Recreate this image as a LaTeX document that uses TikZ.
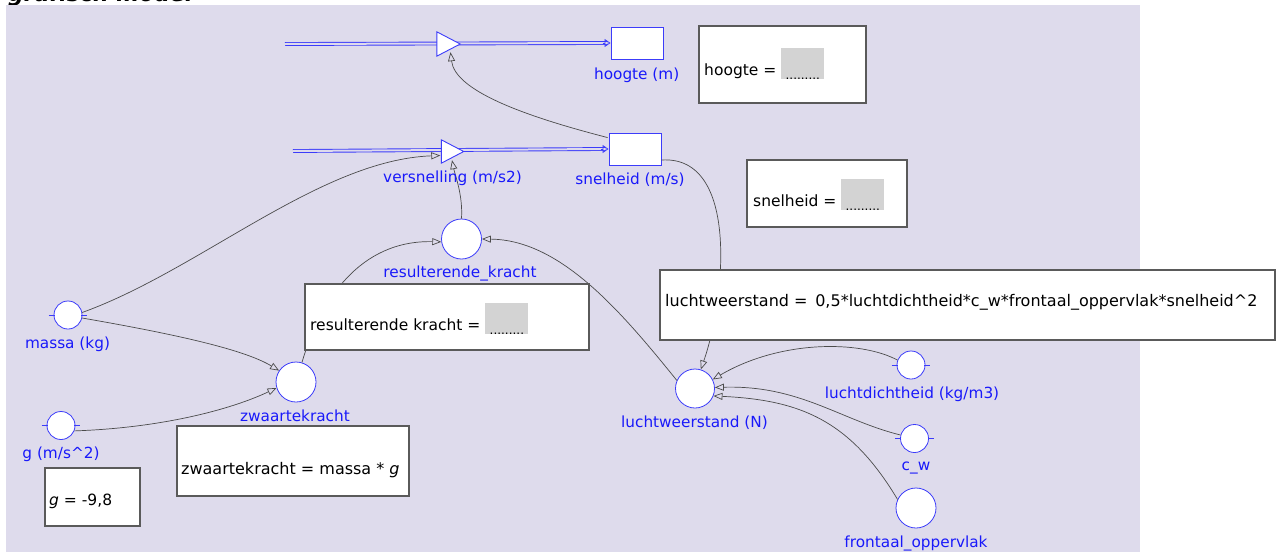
\documentclass[tikz,border=0pt]{standalone}
\usepackage{fontspec}
\setmainfont{DejaVu Sans}
\usetikzlibrary{arrows.meta,calc}
\definecolor{bg}{RGB}{222,219,236}
\definecolor{lblue}{RGB}{25,25,250}
\definecolor{sblue}{RGB}{60,60,250}
\definecolor{boxgray}{RGB}{90,90,90}
\definecolor{phgray}{RGB}{211,211,211}
\definecolor{linkgray}{RGB}{75,75,75}
\newcommand\gapbox{\raisebox{-4pt}{\setlength{\fboxsep}{0pt}\colorbox{phgray}{\parbox[b][31pt][b]{43pt}{\centering\fontsize{12}{12}\selectfont .........}}}}
\tikzset{
  stock/.style={draw=sblue, fill=white, line width=0.9pt, minimum width=52pt, minimum height=32pt, inner sep=0},
  auxc/.style={circle, draw=sblue, fill=white, line width=0.8pt, inner sep=0, minimum size=#1},
  auxc/.default=40pt,
  vlabel/.style={text=lblue, font=\fontsize{15.3}{18}\selectfont, inner sep=0, anchor=base},
  eqbox/.style={draw=boxgray, fill=white, line width=1.6pt, inner sep=0},
  eqtext/.style={anchor=base west, inner sep=0, font=\fontsize{15.5}{18}\selectfont},
  link/.style={draw=linkgray, line width=0.7pt, -{Triangle[open, length=9pt, width=7pt]}},
  flowline/.style={draw=sblue, double=bg, double distance=2pt, line width=0.9pt},
  flowtip/.style={draw=sblue, line width=0.8pt, -{Triangle[open, length=6pt, width=8pt]}},
  valvenode/.style={inner sep=0, minimum width=23pt, minimum height=24pt},
  valvetri/.style={draw=sblue, fill=white, line width=0.9pt},
  tickmark/.style={draw=sblue, line width=0.9pt}
}
\begin{document}
\begin{tikzpicture}[x=1pt,y=-1pt]
\useasboundingbox (0,0) rectangle (1282,552);
\node[anchor=base west, inner sep=0, font=\fontsize{22}{22}\selectfont\bfseries\itshape] (title) at (8,1.5) {grafisch model};
\fill[bg] (6,5) rectangle (1140,552);

% stocks
\node[stock] (hoogte) at (637,43) {};
\node[stock] (snelheid) at (635,149) {};
% valves (anchors)
\node[valvenode] (v1) at (448.5,44) {};
\node[valvenode, minimum width=22pt, minimum height=23pt] (v2) at (452.5,151.5) {};
\coordinate (s1) at (285,44);
\coordinate (s2) at (293,151);

% auxiliaries
\node[auxc=40pt] (res) at (461.5,239) {};
\node[auxc=40pt] (zw) at (296,382) {};
\node[auxc=39pt] (lw) at (695,388.5) {};
\node[auxc=28pt] (massa) at (68,315) {};
\node[auxc=28pt] (g) at (61,425.5) {};
\node[auxc=28pt] (ld) at (911,365) {};
\node[auxc=28pt] (cw) at (914.5,438.5) {};
\node[auxc=40pt] (fo) at (916,508) {};
\foreach \n in {massa,g,ld,cw}{
  \draw[tickmark] ($(\n.west)+(-5,0)$) -- ($(\n.west)+(1,0)$);
  \draw[tickmark] ($(\n.east)+(-1,0)$) -- ($(\n.east)+(5,0)$);
}

% flows
\draw[flowline] (s1) -- ($(hoogte.west)+(-3,0)$);
\draw[flowtip] ($(hoogte.west)+(-8,0)$) -- (hoogte.west);
\draw[flowline] (s2) -- ($(snelheid.west)+(-3,0)$);
\draw[flowtip] ($(snelheid.west)+(-8,0)$) -- (snelheid.west);
\draw[valvetri] (v1.north west) -- (v1.south west) -- (v1.east) -- cycle;
\draw[valvetri] (v2.north west) -- (v2.south west) -- (v2.east) -- cycle;

% links
\draw[link] ($(snelheid.north west)+(-1,5)$) .. controls (520,115) and (455,90) .. ($(v1.south)+(2,-4)$);
\draw[link] ($(snelheid.east)+(0,11)$) .. controls (740,155) and (725,300) .. (lw.73);
\draw[link] (res.north) .. controls (463,195) and (455,175) .. ($(v2.south)+(-0.5,-3)$);
\draw[link] (massa.10) .. controls (200,270) and (320,160) .. ($(v2.west)+(-1,4)$);
\draw[link] (massa.-12) .. controls (180,335) and (245,350) .. (zw.146);
\draw[link] (g.-22) .. controls (160,428) and (230,410) .. (zw.197);
\draw[link] (zw.73) .. controls (320,300) and (360,240) .. (res.188);
\draw[link] (lw.156) .. controls (620,310) and (560,240) .. (res.0);
\draw[link] (ld.160) .. controls (860,340) and (780,340) .. (lw.27);
\draw[link] (cw.166) .. controls (840,420) and (800,385) .. (lw.3);
\draw[link] (fo.155) .. controls (850,420) and (800,400) .. (lw.-22);

% equation boxes
\node[eqbox, minimum width=167pt, minimum height=77pt] (eqh) at (782.5,64.5) {};
\node[eqtext] (eqht) at (704,75) {hoogte = \gapbox};
\node[eqbox, minimum width=160pt, minimum height=67pt] (eqs) at (827,193.5) {};
\node[eqtext] (eqst) at (753,206) {snelheid = \gapbox};
\node[eqbox, minimum width=284pt, minimum height=66pt] (eqr) at (447,317) {};
\node[eqtext] (eqrt) at (310,330) {resulterende kracht = \gapbox};
\node[eqbox, minimum width=615pt, minimum height=70pt] (eql) at (967.5,305) {};
\node[eqtext, font=\fontsize{16}{18}\selectfont] (eqlt) at (665,306) {luchtweerstand = \,0,5*luchtdichtheid*c\_w*frontaal\_oppervlak*snelheid\^{}2};
\node[eqbox, minimum width=232pt, minimum height=70pt] (eqz) at (293,461) {};
\node[eqtext, font=\fontsize{16}{18}\selectfont] (eqzt) at (181,474) {zwaartekracht = massa * \textit{g}};
\node[eqbox, minimum width=95pt, minimum height=58pt] (eqg) at (92.5,497) {};
\node[eqtext] (eqgt) at (49,505) {\textit{g} = -9,8};

% labels
\node[vlabel] (lh) at (636.7,79) {hoogte (m)};
\node[vlabel] (ls) at (630,184) {snelheid (m/s)};
\node[vlabel] (lv) at (452.5,182) {versnelling (m/s2)};
\node[vlabel] (lr) at (460,277) {resulterende\_kracht};
\node[vlabel] (lm) at (67.5,348) {massa (kg)};
\node[vlabel] (lg) at (61,458) {g (m/s\^{}2)};
\node[vlabel] (lz) at (295,421) {zwaartekracht};
\node[vlabel] (llw) at (694.5,427) {luchtweerstand (N)};
\node[vlabel] (lld) at (912,398) {luchtdichtheid (kg/m3)};
\node[vlabel] (lcw) at (916,470) {c\_w};
\node[vlabel] (lfo) at (916,547) {frontaal\_oppervlak};
\end{tikzpicture}
\end{document}
